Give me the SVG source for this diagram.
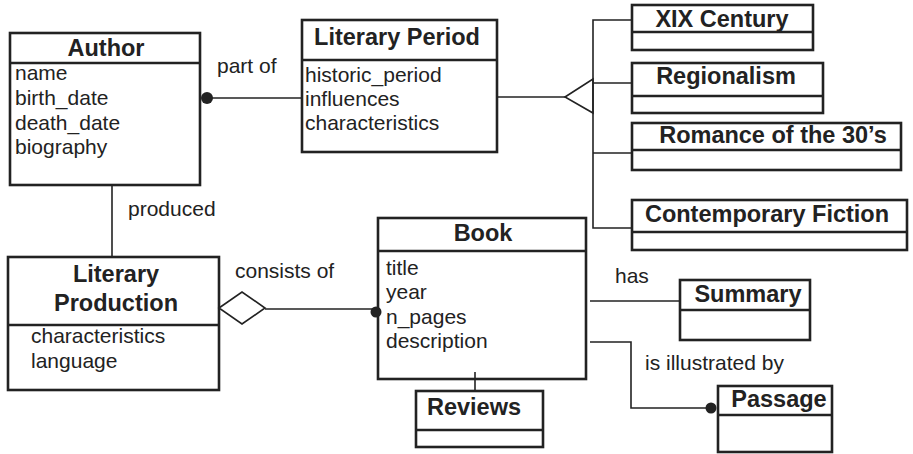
<svg xmlns="http://www.w3.org/2000/svg" width="913" height="454" viewBox="0 0 913 454">
<style>
.box{fill:#fff;stroke:#222;stroke-width:2.6}
.div{stroke:#222;stroke-width:2.6}
.t{font-family:"Liberation Sans",Arial,sans-serif;font-weight:bold;font-size:23.5px;fill:#222;text-anchor:middle}
.a{font-family:"Liberation Sans",Arial,sans-serif;font-size:21px;fill:#222}
.c{fill:none;stroke:#222;stroke-width:1.6}
.dot{fill:#222}
</style>
<rect width="913" height="454" fill="#fff"/>
<g id="author">
<rect class="box" x="10" y="33" width="190" height="152"/>
<line class="div" x1="10" y1="63" x2="200" y2="63"/>
<text class="t" x="106" y="56">Author</text>
<text class="a" x="15" y="80">name</text>
<text class="a" x="15" y="105">birth_date</text>
<text class="a" x="15" y="130">death_date</text>
<text class="a" x="15" y="154">biography</text>
</g>
<g id="literary-period">
<rect class="box" x="302" y="20" width="195" height="132"/>
<line class="div" x1="302" y1="60" x2="497" y2="60"/>
<text class="t" x="397" y="45">Literary Period</text>
<text class="a" x="305" y="82">historic_period</text>
<text class="a" x="305" y="106">influences</text>
<text class="a" x="305" y="130">characteristics</text>
</g>
<g id="xix-century">
<rect class="box" x="632" y="5" width="181" height="45"/>
<line class="div" x1="632" y1="32" x2="813" y2="32"/>
<text class="t" x="722" y="27">XIX Century</text>
</g>
<g id="regionalism">
<rect class="box" x="632" y="63" width="191" height="50"/>
<line class="div" x1="632" y1="96" x2="823" y2="96"/>
<text class="t" x="726" y="84">Regionalism</text>
</g>
<g id="romance">
<rect class="box" x="632" y="123" width="269" height="47"/>
<line class="div" x1="632" y1="150" x2="901" y2="150"/>
<text class="t" x="773" y="143">Romance of the 30’s</text>
</g>
<g id="contemporary-fiction">
<rect class="box" x="632" y="200" width="275" height="50"/>
<line class="div" x1="632" y1="232" x2="907" y2="232"/>
<text class="t" x="767" y="222">Contemporary Fiction</text>
</g>
<g id="literary-production">
<rect class="box" x="8" y="257" width="211" height="133"/>
<line class="div" x1="8" y1="325" x2="219" y2="325"/>
<text class="t" x="116" y="282">Literary</text>
<text class="t" x="116" y="311">Production</text>
<text class="a" x="31" y="343">characteristics</text>
<text class="a" x="31" y="368">language</text>
</g>
<g id="book">
<rect class="box" x="378" y="218" width="208" height="161"/>
<line class="div" x1="378" y1="251" x2="586" y2="251"/>
<text class="t" x="483" y="241">Book</text>
<text class="a" x="386" y="275">title</text>
<text class="a" x="386" y="299">year</text>
<text class="a" x="386" y="324">n_pages</text>
<text class="a" x="386" y="348">description</text>
</g>
<g id="reviews">
<rect class="box" x="416" y="391" width="127" height="56"/>
<line class="div" x1="416" y1="430" x2="543" y2="430"/>
<text class="t" x="474" y="415">Reviews</text>
</g>
<g id="summary">
<rect class="box" x="680" y="280" width="130" height="60"/>
<line class="div" x1="680" y1="310" x2="810" y2="310"/>
<text class="t" x="748" y="302">Summary</text>
</g>
<g id="passage">
<rect class="box" x="718" y="386" width="114" height="66"/>
<line class="div" x1="718" y1="415" x2="832" y2="415"/>
<text class="t" x="779" y="407">Passage</text>
</g>
<g id="connectors">
<line class="c" x1="207" y1="98" x2="302" y2="98"/>
<circle class="dot" cx="207" cy="98" r="6"/>
<text class="a" x="217" y="73">part of</text>
<line class="c" x1="497" y1="97" x2="565" y2="97"/>
<polygon points="565,97 593,79 593,113" fill="#fff" stroke="#222" stroke-width="1.6"/>
<polyline class="c" points="632,20 593,20 593,228 632,228"/>
<line class="c" x1="593" y1="83" x2="632" y2="83"/>
<line class="c" x1="593" y1="153" x2="632" y2="153"/>
<line class="c" x1="112" y1="185" x2="112" y2="257"/>
<text class="a" x="128" y="216">produced</text>
<polygon points="219,308 242,292 265,308 242,324" fill="#fff" stroke="#222" stroke-width="1.6"/>
<line class="c" x1="265" y1="309" x2="376" y2="309"/>
<circle class="dot" cx="376" cy="312" r="5.5"/>
<text class="a" x="235" y="278">consists of</text>
<line class="c" x1="475" y1="372" x2="475" y2="391"/>
<line class="c" x1="590" y1="301" x2="680" y2="301"/>
<text class="a" x="615" y="283">has</text>
<polyline class="c" points="590,342 631,342 631,408 711,408"/>
<circle class="dot" cx="711" cy="408" r="5.5"/>
<text class="a" x="645" y="370">is illustrated by</text>
</g>
</svg>
